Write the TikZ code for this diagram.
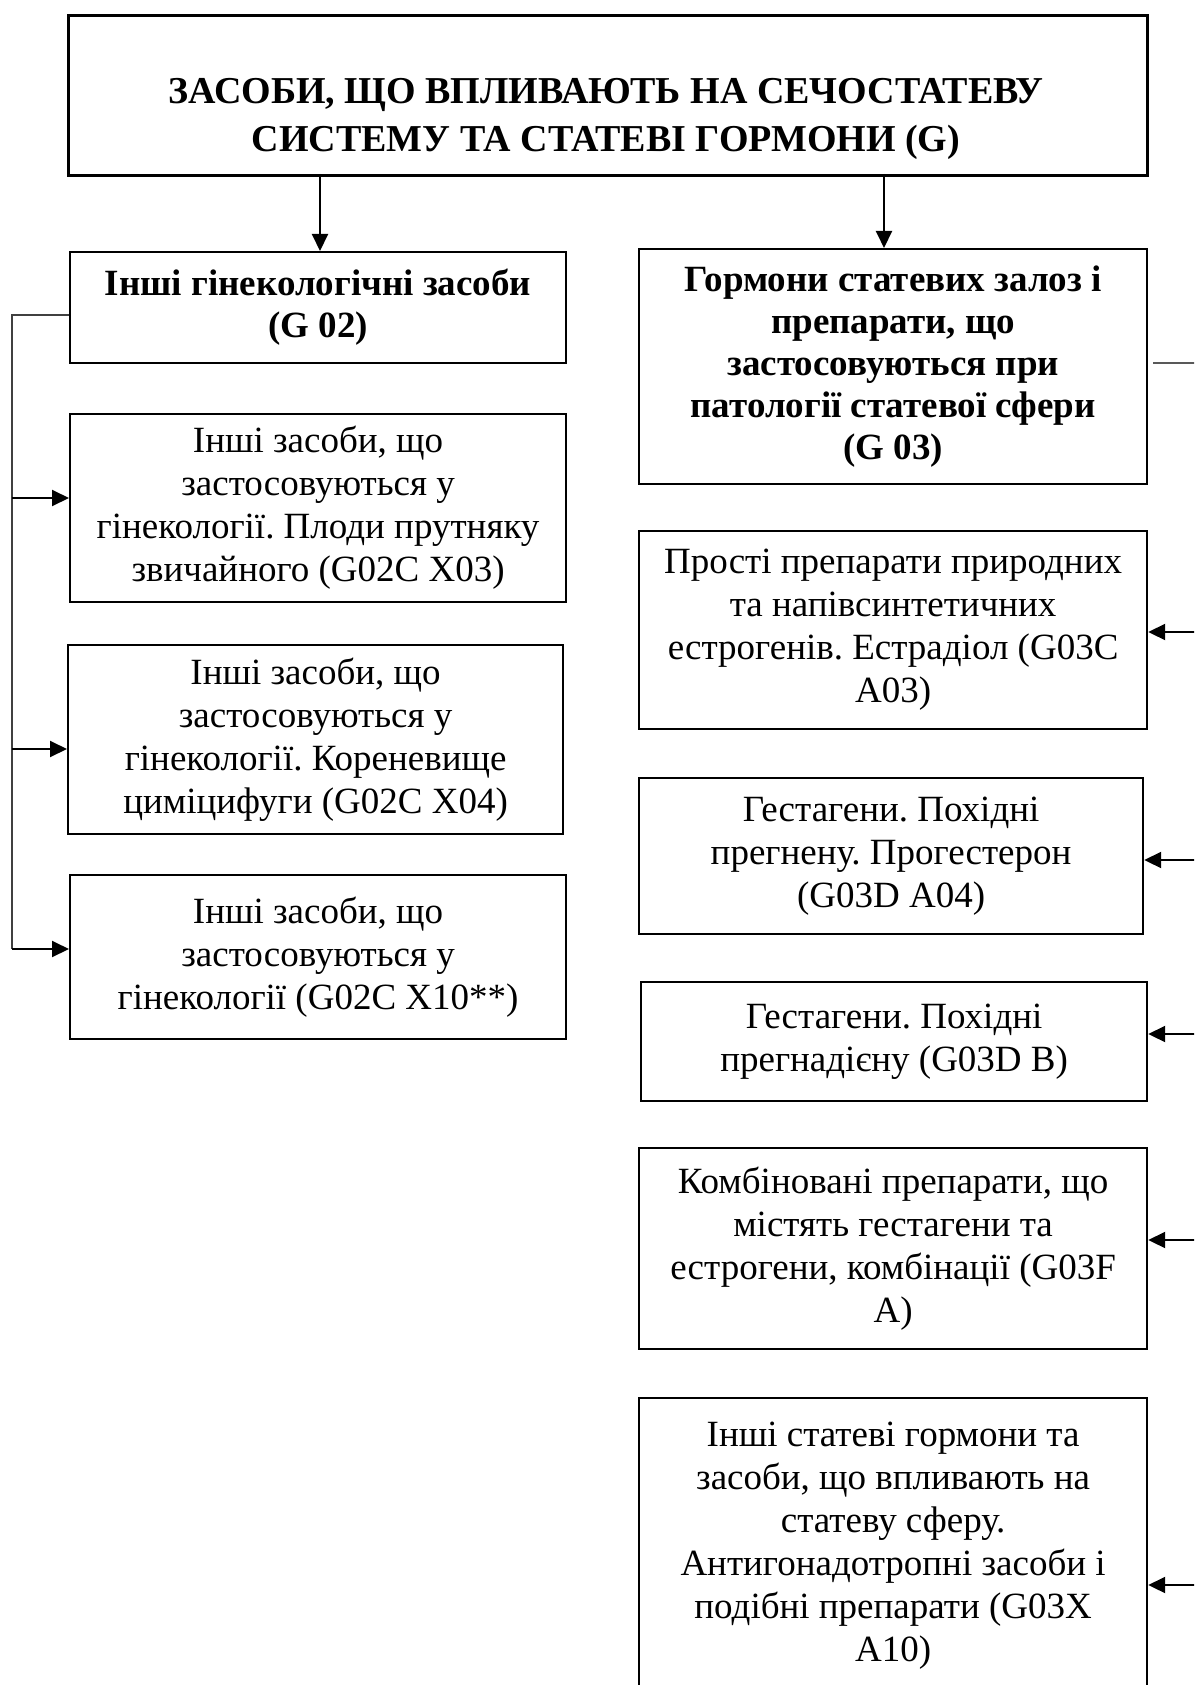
\documentclass[tikz,border=0pt]{standalone}
\usepackage{fontspec}
\setmainfont{Liberation Serif}
\usetikzlibrary{arrows.meta}
\frenchspacing

\begin{document}
\begin{tikzpicture}[x=0.5pt,y=-0.5pt,
  box/.style={draw, line width=1.1pt, inner sep=0pt, align=center, anchor=north west,
    font={\fontsize{18.5pt}{21.5pt}\selectfont}},
  boldbox/.style={box, font={\fontsize{18.5pt}{21pt}\selectfont\bfseries}},
  titletext/.style={inner sep=0pt, align=center,
    font={\fontsize{19pt}{24pt}\selectfont\bfseries}},
  arr/.style={line width=1pt, -{Triangle[length=8.5pt,width=8pt]}},
  busline/.style={line width=0.8pt, draw=black!75},
]
\useasboundingbox (0,0) rectangle (1194,1685);
\clip (0,0) rectangle (1194,1685);

% heading box
\node[box, line width=1.4pt, minimum width=539.5pt, minimum height=80pt] (top) at (67,14) {};
\node[titletext] (toptext) at (606,119)
  {ЗАСОБИ, ЩО ВПЛИВАЮТЬ НА СЕЧОСТАТЕВУ\\СИСТЕМУ ТА СТАТЕВІ ГОРМОНИ (G)};

% left column
\node[boldbox, minimum width=248pt, minimum height=55.5pt] (g02) at (69,251)
  {Інші гінекологічні засоби\\(G 02)};
\node[box, minimum width=248pt, minimum height=94pt] (l1) at (69,413)
  {Інші засоби, що\\застосовуються у\\гінекології. Плоди прутняку\\звичайного (G02C X03)};
\node[box, minimum width=247.5pt, minimum height=94.5pt] (l2) at (67,644)
  {Інші засоби, що\\застосовуються у\\гінекології. Кореневище\\циміцифуги (G02C X04)};
\node[box, minimum width=248pt, minimum height=82pt] (l3) at (69,874)
  {Інші засоби, що\\застосовуються у\\гінекології (G02C X10**)};

% right column
\node[boldbox, minimum width=254pt, minimum height=117.5pt] (g03) at (638,248)
  {Гормони статевих залоз і\\препарати, що\\застосовуються при\\патології статевої сфери\\(G 03)};
\node[box, minimum width=254pt, minimum height=99pt] (r1) at (638,530)
  {Прості препарати природних\\та напівсинтетичних\\естрогенів. Естрадіол (G03C\\A03)};
\node[box, minimum width=252pt, minimum height=78pt] (r2) at (638,777)
  {Гестагени. Похідні\\прегнену. Прогестерон\\(G03D A04)};
\node[box, minimum width=253pt, minimum height=59.5pt] (r3) at (640,981)
  {Гестагени. Похідні\\прегнадієну (G03D B)};
\node[box, minimum width=254pt, minimum height=100.5pt] (r4) at (638,1147)
  {Комбіновані препарати, що\\містять гестагени та\\естрогени, комбінації (G03F\\A)};
\node[box, minimum width=254pt, minimum height=148pt] (r5) at (638,1397)
  {Інші статеві гормони та\\засоби, що впливають на\\статеву сферу.\\Антигонадотропні засоби і\\подібні препарати (G03X\\A10)};

% arrows from the heading
\coordinate (t1) at (320,174);
\coordinate (t2) at (884,174);
\draw[arr] (t1) -- (t1 |- g02.north);
\draw[arr] (t2) -- (t2 |- g03.north);

% left bus
\coordinate (lb) at (12,315);
\coordinate (a1) at (12,498);
\coordinate (a2) at (12,749);
\coordinate (a3) at (12,949);
\draw[busline] (g02.west |- lb) -- (lb) -- (a3);
\draw[arr] (a1) -- (a1 -| l1.west);
\draw[arr] (a2) -- (a2 -| l2.west);
\draw[arr] (a3) -- (a3 -| l3.west);

% right bus
\coordinate (rb) at (1215,363);
\coordinate (b1) at (1215,632);
\coordinate (b2) at (1215,860);
\coordinate (b3) at (1215,1034);
\coordinate (b4) at (1215,1240);
\coordinate (b5) at (1215,1585);
\draw[busline, line width=1pt, draw=black!65] ([xshift=2.5pt]g03.east |- rb) -- (rb) -- (b5);
\draw[arr] (b1) -- (b1 -| r1.east);
\draw[arr] (b2) -- (b2 -| r2.east);
\draw[arr] (b3) -- (b3 -| r3.east);
\draw[arr] (b4) -- (b4 -| r4.east);
\draw[arr] (b5) -- (b5 -| r5.east);
\end{tikzpicture}
\end{document}
